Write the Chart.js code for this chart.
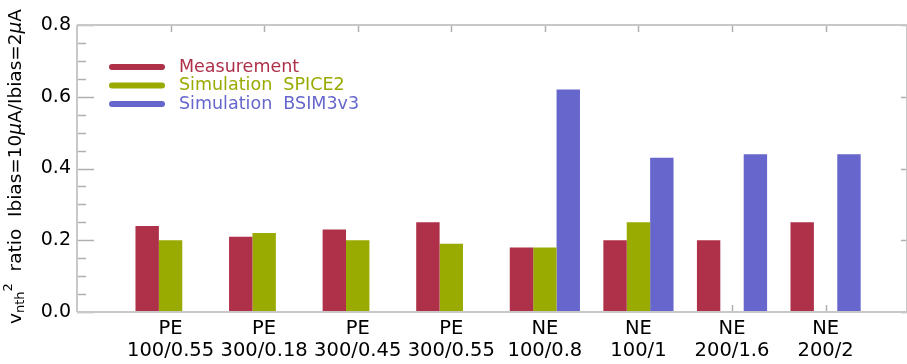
<!DOCTYPE html>
<html>
<head>
<meta charset="utf-8">
<script src="https://cdn.jsdelivr.net/npm/chart.js@4.4.1/dist/chart.umd.min.js"></script>
<style>
  html, body { margin: 0; padding: 0; background: #ffffff; }
  #wrap { width: 907px; height: 364px; }
</style>
</head>
<body>
<div id="wrap"><canvas id="c" width="907" height="364"></canvas></div>
<script>
// ---- data ----
const catTypes   = ['PE', 'PE', 'PE', 'PE', 'NE', 'NE', 'NE', 'NE'];
const catSizes   = ['100/0.55', '300/0.18', '300/0.45', '300/0.55', '100/0.8', '100/1', '200/1.6', '200/2'];
const measurement = [0.24, 0.21, 0.23, 0.25, 0.18, 0.20, 0.20, 0.25];
const spice2      = [0.20, 0.22, 0.20, 0.19, 0.18, 0.25, null, null];
const bsim3v3     = [null, null, null, null, 0.62, 0.43, 0.44, 0.44];
const seriesNames = ['Measurement', 'Simulation  SPICE2', 'Simulation  BSIM3v3'];
const yTickValues = [0.0, 0.2, 0.4, 0.6, 0.8];

const colRed = '#AE3049', colGreen = '#99AA00', colBlue = '#6666CC';
const axisGray = '#c8c8c8', tickGray = '#b0b0b0';
const FONT = "'DejaVu Sans', sans-serif";

function toPts(arr) { return arr.map((v, i) => ({ x: i, y: v })); }

const framePlugin = {
  id: 'frame',
  beforeDatasetsDraw(chart) {
    const { ctx, chartArea: a, scales: { x, y } } = chart;
    ctx.save();
    ctx.strokeStyle = tickGray;
    ctx.lineWidth = 1.5;
    ctx.beginPath();
    for (let k = 0; k <= 16; k++) {
      const v = k * 0.05;
      const py = Math.round(y.getPixelForValue(v)) + 0.5;
      const major = (k % 4 === 0);
      ctx.moveTo(a.left, py); ctx.lineTo(a.left + (major ? 17 : 9), py);
      if (major) { ctx.moveTo(a.right, py); ctx.lineTo(a.right - 6, py); }
    }
    catTypes.forEach((_, i) => {
      const px = Math.round(x.getPixelForValue(i)) + 0.5;
      ctx.moveTo(px, a.top); ctx.lineTo(px, a.top + 7);
      ctx.moveTo(px, a.bottom); ctx.lineTo(px, a.bottom - 7);
    });
    ctx.stroke();
    ctx.restore();
  },
  afterDatasetsDraw(chart) {
    const { ctx, chartArea: a } = chart;
    ctx.save();
    ctx.strokeStyle = axisGray;
    ctx.lineWidth = 2;
    ctx.beginPath();
    ctx.moveTo(a.left, a.top); ctx.lineTo(a.right, a.top);
    ctx.moveTo(a.left, a.bottom); ctx.lineTo(a.right, a.bottom);
    ctx.moveTo(a.left, a.top); ctx.lineTo(a.left, a.bottom);
    ctx.moveTo(a.right, a.top); ctx.lineTo(a.right, a.bottom);
    ctx.stroke();
    ctx.restore();

    // legend
    ctx.save();
    const lx0 = a.left + 35, lx1 = a.left + 85, tx = a.left + 102;
    const ly0 = a.top + 42, dy = 18.5;
    chart.data.datasets.forEach((ds, i) => {
      const yy = ly0 + i * dy;
      ctx.strokeStyle = ds.backgroundColor;
      ctx.lineWidth = 6;
      ctx.lineCap = 'round';
      ctx.beginPath(); ctx.moveTo(lx0, yy); ctx.lineTo(lx1, yy); ctx.stroke();
      ctx.fillStyle = ds.backgroundColor;
      ctx.font = "17.5px " + FONT;
      ctx.textBaseline = 'middle';
      ctx.textAlign = 'left';
      ctx.fillText(ds.label, tx, yy);
    });
    ctx.restore();
  },
  afterDraw(chart) {
    const { ctx, chartArea: a } = chart;
    const big = 18.5, small = 13;
    const parts = [
      { t: 'v', s: big, dy: 0 },
      { t: 'nth', s: small, dy: 5 },
      { t: '2', s: small, dy: -7 },
      { t: '  ratio  Ibias=10', s: big, dy: 0 },
      { t: 'μ', s: big, dy: 0, it: true },
      { t: 'A/Ibias=2', s: big, dy: 0 },
      { t: 'μ', s: big, dy: 0, it: true },
      { t: 'A', s: big, dy: 0 }
    ];
    ctx.save();
    let total = 0;
    parts.forEach(p => {
      ctx.font = (p.it ? 'italic ' : '') + p.s + 'px ' + FONT;
      p.w = ctx.measureText(p.t).width;
      total += p.w;
    });
    ctx.translate(16, (a.top + a.bottom) / 2 - 2);
    ctx.rotate(-Math.PI / 2);
    ctx.fillStyle = '#000';
    ctx.textBaseline = 'middle';
    ctx.textAlign = 'left';
    let cx = -total / 2;
    parts.forEach(p => {
      ctx.font = (p.it ? 'italic ' : '') + p.s + 'px ' + FONT;
      ctx.fillText(p.t, cx, p.dy);
      cx += p.w;
    });
    ctx.restore();
  }
};

new Chart(document.getElementById('c'), {
  type: 'bar',
  data: {
    datasets: [
      { label: seriesNames[0], data: toPts(measurement), backgroundColor: colRed },
      { label: seriesNames[1], data: toPts(spice2), backgroundColor: colGreen },
      { label: seriesNames[2], data: toPts(bsim3v3), backgroundColor: colBlue }
    ]
  },
  options: {
    responsive: false,
    devicePixelRatio: 1,
    animation: false,
    layout: { padding: { top: 25, right: 0, left: 0, bottom: 0 } },
    datasets: { bar: { categoryPercentage: 0.75, barPercentage: 1.0, borderWidth: 0 } },
    plugins: { legend: { display: false }, tooltip: { enabled: false } },
    scales: {
      x: {
        type: 'linear',
        offset: false,
        min: -1,
        max: 7.87,
        grid: { display: false, drawTicks: false, offset: false },
        border: { display: false },
        afterBuildTicks: s => { s.ticks = catTypes.map((_, i) => ({ value: i })); },
        afterFit: s => { s.height = 52; s.paddingLeft = 0; s.paddingRight = 0; },
        ticks: {
          autoSkip: false,
          maxRotation: 0,
          padding: 6,
          color: '#000',
          font: { family: FONT, size: 19.5, lineHeight: 1.12 },
          callback: v => { const i = Math.round(v); return [catTypes[i], catSizes[i]]; }
        }
      },
      y: {
        min: 0,
        max: 0.8,
        grid: { display: false, drawTicks: false },
        border: { display: false },
        afterBuildTicks: s => { s.ticks = yTickValues.map(v => ({ value: v })); },
        afterFit: s => { s.width = 77; s.paddingTop = 0; s.paddingBottom = 0; },
        ticks: {
          padding: 6,
          color: '#000',
          font: { family: FONT, size: 19 },
          callback: v => v.toFixed(1)
        }
      }
    }
  },
  plugins: [framePlugin]
});
</script>
</body>
</html>
